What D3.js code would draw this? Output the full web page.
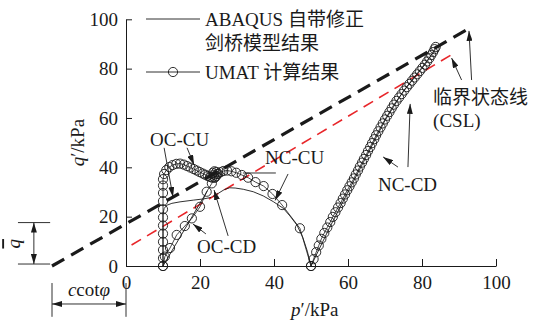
<!DOCTYPE html>
<html>
<head>
<meta charset="utf-8">
<script src="https://cdn.jsdelivr.net/npm/d3@7"></script>
<style>
  body { margin: 0; background: #fff; }
  svg { display: block; font-family: "Liberation Serif", "DejaVu Serif", serif; }
  .zh { font-family: "Noto Sans CJK SC", sans-serif; }
</style>
</head>
<body>
<div id="chart"></div>
<script>
// tick values
const pTicks = [0, 20, 40, 60, 80, 100];
const qTicks = [0, 20, 40, 60, 80, 100];

// critical state lines [p, q]
const cslBlack = [[-20, 0], [93, 96.5]];
const cslRed = [[1.5, 8.5], [87.7, 85.4]];

// UMAT results (circles)
const umatOcCu = [
  [10, 0], [10, 3.2], [10, 6.5], [10, 9.8], [10, 13.1], [10, 16.4], [10, 19.7], [10, 23],
  [10, 26.3], [10, 29.6], [10, 32.6], [10, 35.2], [10.3, 37.3], [10.9, 38.9], [11.7, 40.1],
  [12.6, 40.9], [13.6, 41.4], [14.6, 41.5], [15.6, 41.1], [16.5, 40.5], [17.4, 39.9],
  [18.3, 39.3], [19.1, 38.7], [19.9, 38.1], [20.7, 37.5], [21.4, 37], [22.1, 36.5],
  [22.7, 36.1], [23.3, 35.8], [23.9, 35.9], [24.4, 36.5], [24.6, 37.3], [24.4, 38.1],
  [23.9, 38.4], [23.5, 37.8], [23.8, 37]
];
const umatNcCu = [
  [50, 0], [47, 15.3], [42.2, 24.7], [39.6, 29.2], [37.2, 32.4], [35, 34], [33, 35.8],
  [31.3, 36.9], [29.8, 37.8], [28.5, 38.4], [27.3, 38.7], [26.3, 38.5], [25.5, 38], [24.9, 37.4]
];
const umatOcCd = [
  [10, 0], [10.5, 3.8], [11.9, 7.3], [13.7, 12.6], [15.9, 16.2], [17.8, 19.3], [20, 24],
  [21.8, 30.1], [23.2, 33.5], [24, 35.8]
];
const umatNcCd = [
  [50, 0], [50.7, 2.8], [51.4, 5.6], [52.1, 8.3], [52.8, 11], [53.6, 13.4], [54.4, 15.6],
  [55.2, 17.8], [55.9, 19.9], [56.6, 21.8], [57.3, 23.7], [58, 25.5], [58.6, 27.3], [59.2, 29],
  [59.8, 30.7], [60.4, 32.3], [61, 33.9], [61.6, 35.5], [62.1, 37.1], [62.7, 38.7], [63.2, 40.3],
  [63.8, 41.9], [64.3, 43.4], [64.9, 45], [65.4, 46.6], [66, 48.2], [66.5, 49.8], [67.1, 51.4],
  [67.6, 53], [68.2, 54.6], [68.8, 56.2], [69.4, 57.8], [70, 59.4], [70.6, 60.9], [71.2, 62.4],
  [71.8, 63.9], [72.4, 65.4], [73.1, 66.9], [73.8, 68.3], [74.5, 69.7], [75.2, 71.1], [75.9, 72.5],
  [76.6, 73.8], [77.3, 75.1], [78, 76.4], [78.7, 77.7], [79.4, 79], [80.1, 80.3], [80.8, 81.6],
  [81.4, 82.9], [82, 84.2], [82.5, 85.5], [83, 86.7], [83.4, 87.9], [83.7, 88.8]
];

// ABAQUS modified Cam-clay results (thin lines)
const abqOcCu = [
  [10, 0], [10, 21], [10.3, 23.3], [11, 24.6], [12.4, 25.4], [14.6, 26], [18.2, 26.7],
  [21, 27.2], [23, 27.8]
];
const abqNcCu = [
  [50, 0], [49, 6], [47.8, 11.5], [46.2, 16.6], [44.3, 20.3], [42.5, 23.4], [39.8, 26.1],
  [37.1, 28.4], [34.4, 30.1], [31.7, 31.1], [29.5, 31.6], [28, 31.7], [26.6, 31], [25, 29.5],
  [23.5, 28.2]
];
const abqOcCd = [[10, 0], [22, 30.5]];
const abqNcCd = [
  [50, 0], [55, 15.5], [60, 30], [65, 44.5], [70, 59], [75, 71], [80, 80.5], [83.5, 87.5]
];

// annotation labels and leader arrows, in data units
const labels = [
  { t: "OC-CU", p: 6.5, q: 48.7 },
  { t: "NC-CU", p: 37.6, q: 41.4 },
  { t: "OC-CD", p: 19.2, q: 5.3 },
  { t: "NC-CD", p: 68.1, q: 30.4 },
  { t: "临界状态线", p: 83, q: 65.7, zh: true },
  { t: "(CSL)", p: 83, q: 56.4 }
];
const arrows = [
  [[93.4, 75.4], [92.7, 95.3]],
  [[90.7, 75.4], [88, 84.3]],
  [[73.5, 40.1], [69.5, 44.2]],
  [[76.2, 40.1], [76.8, 65.7]],
  [[43.8, 37.3], [40.3, 26.6]],
  [[10.3, 47.9], [12.7, 28]],
  [[16.5, 47.9], [18.4, 41]],
  [[27.6, 12.2], [23.8, 30.8]],
  [[21.6, 13], [18.1, 17]]
];
const leaders = [[[31.6, 37.7], [40.5, 37.7]]];

const width = 533;
const height = 320;
const ink = "#1a1a1a";

const x = d3.scaleLinear().domain([0, 100]).range([126, 496]);
const y = d3.scaleLinear().domain([0, 100]).range([266, 19.3]);

const svg = d3.select("#chart").append("svg")
  .attr("width", width).attr("height", height);

const defs = svg.append("defs");
defs.append("marker")
  .attr("id", "ah")
  .attr("viewBox", "0 0 10 6")
  .attr("refX", 10).attr("refY", 3)
  .attr("markerWidth", 10).attr("markerHeight", 6)
  .attr("markerUnits", "userSpaceOnUse")
  .attr("orient", "auto-start-reverse")
  .append("path").attr("d", "M0,0L10,3L0,6Z").attr("fill", ink);

const line = d3.line().x(d => x(d[0])).y(d => y(d[1]));

// Axes
const xAxis = svg.append("g")
  .attr("transform", `translate(0,${y(0)})`)
  .call(d3.axisBottom(x).tickValues(pTicks).tickSizeInner(-7).tickSizeOuter(0).tickPadding(10));
const yAxis = svg.append("g")
  .attr("transform", `translate(${x(0)},0)`)
  .call(d3.axisLeft(y).tickValues(qTicks).tickSizeInner(-6).tickSizeOuter(0).tickPadding(8));
[xAxis, yAxis].forEach(g => {
  g.attr("font-family", null).attr("font-size", 19);
  g.selectAll("path, line").attr("stroke", ink);
  g.selectAll("text").attr("fill", ink);
});

// axis titles
svg.append("text")
  .attr("x", x(51)).attr("y", 316)
  .attr("text-anchor", "middle").attr("font-size", 19).attr("fill", ink)
  .html('<tspan font-style="italic">p</tspan>′/kPa');
svg.append("text")
  .attr("transform", `translate(84,${(y(0) + y(100)) / 2}) rotate(-90)`)
  .attr("text-anchor", "middle").attr("font-size", 19).attr("fill", ink)
  .html('<tspan font-style="italic">q</tspan>′/kPa');

// Critical state lines
svg.append("path").datum(cslRed)
  .attr("d", line).attr("fill", "none")
  .attr("stroke", "#e8262a").attr("stroke-width", 1.6).attr("stroke-dasharray", "11 7");
svg.append("path").datum(cslBlack)
  .attr("d", line).attr("fill", "none")
  .attr("stroke", ink).attr("stroke-width", 3.2).attr("stroke-dasharray", "14 8");

// ABAQUS curves
[abqOcCu, abqNcCu, abqOcCd, abqNcCd].forEach(s => {
  svg.append("path").datum(s)
    .attr("d", line).attr("fill", "none")
    .attr("stroke", ink).attr("stroke-width", 0.9);
});

// UMAT curves
[umatOcCu, umatNcCu, umatOcCd, umatNcCd].forEach(s => {
  svg.append("path").datum(s)
    .attr("d", line).attr("fill", "none")
    .attr("stroke", ink).attr("stroke-width", 0.8);
  svg.append("g").selectAll("circle").data(s).join("circle")
    .attr("cx", d => x(d[0])).attr("cy", d => y(d[1])).attr("r", 4.6)
    .attr("fill", "none").attr("stroke", ink).attr("stroke-width", 0.9);
});

// annotations
svg.append("g").selectAll("line").data(arrows).join("line")
  .attr("x1", d => x(d[0][0])).attr("y1", d => y(d[0][1]))
  .attr("x2", d => x(d[1][0])).attr("y2", d => y(d[1][1]))
  .attr("stroke", ink).attr("stroke-width", 0.9)
  .attr("marker-end", "url(#ah)");
svg.append("g").selectAll("line").data(leaders).join("line")
  .attr("x1", d => x(d[0][0])).attr("y1", d => y(d[0][1]))
  .attr("x2", d => x(d[1][0])).attr("y2", d => y(d[1][1]))
  .attr("stroke", ink).attr("stroke-width", 0.9);
svg.append("g").selectAll("text").data(labels).join("text")
  .attr("x", d => x(d.p)).attr("y", d => y(d.q))
  .attr("class", d => d.zh ? "zh" : null)
  .attr("font-size", 19).attr("fill", ink)
  .text(d => d.t);

// q-bar dimension
const dim = svg.append("g").attr("stroke", ink).attr("stroke-width", 0.9);
const qBar = 17.6;
dim.append("line").attr("x1", x(-29.2)).attr("x2", x(-20.5)).attr("y1", y(qBar)).attr("y2", y(qBar));
dim.append("line").attr("x1", x(-29.2)).attr("x2", x(-20.5)).attr("y1", y(0.8)).attr("y2", y(0.8));
dim.append("line").attr("x1", x(-24.9)).attr("x2", x(-24.9)).attr("y1", y(qBar)).attr("y2", y(0.8))
  .attr("marker-start", "url(#ah)").attr("marker-end", "url(#ah)");
svg.append("text")
  .attr("transform", `translate(${x(-28.6)},${y(9)}) rotate(-90)`)
  .attr("text-anchor", "middle").attr("font-size", 19).attr("fill", ink)
  .attr("font-style", "italic").style("text-decoration", "overline")
  .text("q");

// c cot(phi) dimension
dim.append("line").attr("x1", x(-20)).attr("x2", x(-20)).attr("y1", y(-6.9)).attr("y2", y(-20.6));
dim.append("line").attr("x1", x(0)).attr("x2", x(0)).attr("y1", y(-6.9)).attr("y2", y(-20.6));
dim.append("line").attr("x1", x(-20)).attr("x2", x(0)).attr("y1", y(-15.4)).attr("y2", y(-15.4))
  .attr("marker-start", "url(#ah)").attr("marker-end", "url(#ah)");
svg.append("text")
  .attr("x", x(-10)).attr("y", y(-12.1))
  .attr("text-anchor", "middle").attr("font-size", 19).attr("fill", ink)
  .html('<tspan font-style="italic">c</tspan>cot<tspan font-style="italic">φ</tspan>');

// Legend
const leg = svg.append("g").attr("font-size", 19).attr("fill", ink);
leg.append("line").attr("x1", 146).attr("x2", 200).attr("y1", 19).attr("y2", 19)
  .attr("stroke", ink).attr("stroke-width", 0.9);
leg.append("text").attr("x", 205).attr("y", 26)
  .html('ABAQUS <tspan class="zh">自带修正</tspan>');
leg.append("text").attr("x", 205).attr("y", 50).attr("class", "zh").text("剑桥模型结果");
leg.append("line").attr("x1", 146).attr("x2", 200).attr("y1", 72).attr("y2", 72)
  .attr("stroke", ink).attr("stroke-width", 0.9);
leg.append("circle").attr("cx", 173).attr("cy", 72).attr("r", 4.6)
  .attr("fill", "none").attr("stroke", ink).attr("stroke-width", 0.9);
leg.append("text").attr("x", 205).attr("y", 79)
  .html('UMAT <tspan class="zh">计算结果</tspan>');
</script>
</body>
</html>
